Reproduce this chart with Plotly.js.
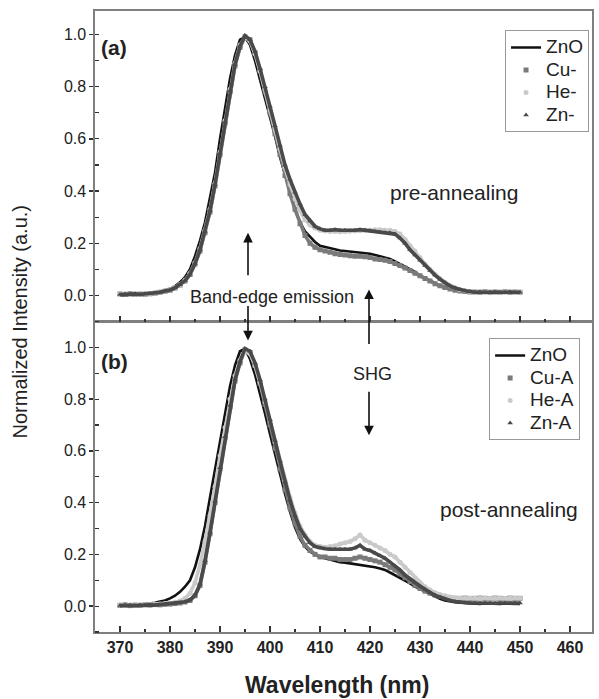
<!DOCTYPE html>
<html>
<head>
<meta charset="utf-8">
<script src="https://cdn.plot.ly/plotly-3.0.1.min.js"></script>
<style>html,body{margin:0;padding:0;background:#fff;}#chart{width:599px;height:699px;}</style>
</head>
<body>
<div id="chart"></div>
<script>
// Wavelength grid (nm)
const wavelength = [370,371,372,373,374,375,376,377,378,379,380,381,382,383,384,385,386,387,388,389,390,391,392,393,394,395,396,397,398,399,400,401,402,403,404,405,406,407,408,409,410,411,412,413,414,415,416,417,418,419,420,421,422,423,424,425,426,427,428,429,430,431,432,433,434,435,436,437,438,439,440,441,442,443,444,445,446,447,448,449,450];

// (a) pre-annealing
const a_ZnO = [0.000,0.002,0.000,0.003,0.004,0.005,0.008,0.010,0.015,0.020,
0.025,0.035,0.050,0.070,0.100,0.150,0.210,0.280,0.370,0.470,
0.600,0.720,0.830,0.920,0.980,0.990,0.960,0.900,0.830,0.760,
0.690,0.610,0.530,0.460,0.390,0.330,0.280,0.245,0.225,0.205,
0.190,0.185,0.180,0.175,0.172,0.170,0.168,0.165,0.163,0.160,
0.160,0.155,0.150,0.145,0.140,0.130,0.120,0.110,0.100,0.090,
0.075,0.065,0.055,0.045,0.035,0.030,0.025,0.020,0.018,0.015,
0.013,0.012,0.010,0.012,0.010,0.010,0.012,0.010,0.010,0.012,0.010];
const a_Cu = [0.005,0.003,0.006,0.004,0.005,0.004,0.006,0.008,0.012,0.016,
0.020,0.028,0.040,0.055,0.080,0.120,0.170,0.240,0.320,0.420,
0.540,0.660,0.780,0.880,0.950,0.990,0.980,0.930,0.860,0.780,
0.700,0.620,0.540,0.460,0.390,0.330,0.275,0.230,0.200,0.185,
0.175,0.170,0.165,0.160,0.157,0.155,0.152,0.150,0.150,0.148,
0.145,0.140,0.138,0.135,0.130,0.122,0.115,0.105,0.095,0.085,
0.075,0.065,0.055,0.045,0.037,0.030,0.025,0.020,0.017,0.015,
0.013,0.013,0.012,0.014,0.012,0.013,0.012,0.014,0.012,0.013,0.012];
const a_He = [0.004,0.006,0.003,0.005,0.006,0.005,0.007,0.009,0.013,0.017,
0.022,0.030,0.042,0.058,0.085,0.125,0.180,0.250,0.330,0.430,
0.550,0.670,0.790,0.890,0.960,0.990,0.975,0.925,0.860,0.790,
0.710,0.635,0.560,0.490,0.425,0.370,0.325,0.290,0.270,0.258,
0.250,0.247,0.245,0.245,0.244,0.245,0.246,0.247,0.248,0.250,
0.250,0.252,0.252,0.250,0.250,0.245,0.235,0.215,0.190,0.170,
0.145,0.120,0.100,0.080,0.065,0.050,0.038,0.030,0.022,0.018,
0.015,0.013,0.014,0.012,0.013,0.014,0.012,0.013,0.014,0.012,0.013];
const a_Zn = [0.003,0.005,0.004,0.006,0.004,0.006,0.007,0.009,0.012,0.017,
0.021,0.029,0.041,0.056,0.082,0.122,0.175,0.245,0.325,0.425,
0.545,0.665,0.785,0.885,0.955,0.995,0.980,0.935,0.870,0.800,
0.725,0.650,0.575,0.500,0.445,0.395,0.350,0.310,0.285,0.265,
0.255,0.250,0.250,0.252,0.250,0.250,0.248,0.250,0.252,0.250,
0.248,0.245,0.242,0.240,0.240,0.235,0.220,0.200,0.175,0.155,
0.135,0.115,0.095,0.078,0.062,0.048,0.036,0.028,0.022,0.018,
0.015,0.012,0.013,0.011,0.012,0.013,0.011,0.012,0.013,0.011,0.012];

// (b) post-annealing
const b_ZnO = [0.005,0.003,0.004,0.006,0.005,0.007,0.010,0.013,0.018,0.022,
0.030,0.040,0.055,0.075,0.100,0.150,0.220,0.310,0.420,0.530,
0.640,0.750,0.850,0.930,0.985,0.995,0.955,0.895,0.825,0.745,
0.665,0.585,0.505,0.435,0.365,0.305,0.260,0.230,0.210,0.200,
0.190,0.185,0.180,0.175,0.170,0.168,0.165,0.162,0.160,0.158,
0.155,0.150,0.145,0.140,0.130,0.120,0.110,0.098,0.088,0.075,
0.065,0.055,0.045,0.035,0.028,0.022,0.018,0.015,0.013,0.012,
0.010,0.010,0.008,0.010,0.009,0.010,0.008,0.010,0.009,0.010,0.008];
const b_Cu = [0.003,0.005,0.002,0.004,0.003,0.005,0.004,0.006,0.005,0.007,
0.008,0.010,0.012,0.016,0.022,0.040,0.080,0.170,0.280,0.400,
0.530,0.650,0.770,0.870,0.940,0.990,0.980,0.930,0.860,0.780,
0.700,0.610,0.530,0.450,0.380,0.320,0.270,0.235,0.215,0.200,
0.190,0.190,0.185,0.185,0.180,0.180,0.180,0.185,0.190,0.185,
0.180,0.175,0.170,0.160,0.150,0.140,0.125,0.110,0.095,0.080,
0.068,0.058,0.050,0.043,0.038,0.034,0.032,0.030,0.030,0.031,
0.029,0.030,0.031,0.030,0.029,0.031,0.030,0.029,0.031,0.030,0.030];
const b_He = [0.004,0.003,0.005,0.003,0.004,0.005,0.006,0.007,0.008,0.010,
0.012,0.015,0.020,0.030,0.050,0.090,0.160,0.250,0.350,0.460,
0.580,0.690,0.800,0.890,0.950,0.985,0.975,0.930,0.865,0.790,
0.715,0.635,0.560,0.485,0.420,0.360,0.310,0.275,0.250,0.235,
0.230,0.228,0.230,0.233,0.240,0.245,0.250,0.260,0.275,0.255,
0.245,0.235,0.225,0.215,0.200,0.190,0.170,0.150,0.130,0.110,
0.090,0.075,0.062,0.052,0.045,0.040,0.035,0.032,0.030,0.030,
0.031,0.030,0.029,0.031,0.030,0.030,0.031,0.029,0.030,0.031,0.030];
const b_Zn = [0.002,0.004,0.003,0.002,0.004,0.003,0.005,0.004,0.006,0.007,
0.008,0.010,0.013,0.017,0.024,0.042,0.085,0.175,0.285,0.405,
0.535,0.655,0.775,0.875,0.945,0.995,0.985,0.940,0.875,0.800,
0.720,0.640,0.560,0.480,0.410,0.350,0.300,0.270,0.245,0.230,
0.225,0.222,0.220,0.220,0.220,0.220,0.220,0.225,0.235,0.220,
0.215,0.205,0.195,0.185,0.170,0.155,0.140,0.120,0.105,0.090,
0.078,0.065,0.052,0.042,0.035,0.028,0.022,0.018,0.015,0.013,
0.012,0.012,0.011,0.013,0.012,0.011,0.012,0.013,0.011,0.012,0.012];

const namesA = ['ZnO','Cu-','He-','Zn-'];
const namesB = ['ZnO','Cu-A','He-A','Zn-A'];
const colors = ['#111111','#7a7a7a','#cacaca','#4a4a4a'];
const symbols = ['line','square','circle','triangle-up'];

const traces = [];
function legName(n) { return '<span style="font-size:19px">' + n + '</span>'; }
function addSeries(ys, i, name, xa, ya, leg) {
  if (i === 0) {
    traces.push({x: wavelength, y: ys, xaxis: xa, yaxis: ya, mode: 'lines', name: legName(name),
      line: {color: colors[i], width: 2.6}, legend: leg, showlegend: true});
  } else {
    traces.push({x: wavelength, y: ys, xaxis: xa, yaxis: ya, mode: 'lines', name: legName(name),
      line: {color: colors[i], width: 3.6}, showlegend: false, legend: leg});
    traces.push({x: wavelength, y: ys, xaxis: xa, yaxis: ya, mode: 'markers', name: legName(name),
      marker: {color: colors[i], size: 5, symbol: symbols[i]}, legend: leg, showlegend: true});
  }
}
[a_ZnO, a_Cu, a_He, a_Zn].forEach((s, i) => addSeries(s, i, namesA[i], 'x2', 'y', 'legend'));
[b_ZnO, b_Cu, b_He, b_Zn].forEach((s, i) => addSeries(s, i, namesB[i], 'x', 'y2', 'legend2'));

const frame = '#7f7f7f';
const fnt = 'Liberation Sans, Arial, sans-serif';
const xcommon = {range: [365, 464.4], dtick: 10, tick0: 370, ticks: 'inside', ticklen: 6, tickwidth: 1.3,
  tickcolor: '#333', showline: true, linecolor: frame, linewidth: 1.6, mirror: true, showgrid: false, zeroline: false,
  minor: {ticks: 'inside', dtick: 5, ticklen: 3, tickcolor: '#333', tickwidth: 1.2}};
const ycommon = {dtick: 0.2, tick0: 0, tickformat: '.1f', ticks: 'outside', ticklen: 4, tickwidth: 1.3,
  tickcolor: '#333', showline: true, linecolor: frame, linewidth: 1.6, mirror: true, showgrid: false, zeroline: false,
  tickfont: {family: fnt, size: 16, color: '#222'},
  minor: {ticks: 'inside', dtick: 0.1, ticklen: 4, tickcolor: '#333', tickwidth: 1.2}};

const arrowC = '#111';
const legCommon = {xanchor: 'left', yanchor: 'top', bgcolor: '#fff', bordercolor: '#999', borderwidth: 1,
  font: {family: fnt, size: 15, color: '#222'}, itemwidth: 30, tracegroupgap: 0};
const layout = {
  width: 599, height: 699,
  margin: {l: 95, r: 7, t: 11, b: 67},
  paper_bgcolor: '#fff', plot_bgcolor: '#fff',
  font: {family: fnt, color: '#222'},
  xaxis: Object.assign({}, xcommon, {anchor: 'y2', tickfont: {family: fnt, size: 16, color: '#222', weight: 'bold'}}),
  xaxis2: Object.assign({}, xcommon, {anchor: 'y', matches: 'x', showticklabels: false}),
  yaxis: Object.assign({}, ycommon, {domain: [0.5, 1], range: [-0.1, 1.09], anchor: 'x2'}),
  yaxis2: Object.assign({}, ycommon, {domain: [0, 0.5], range: [-0.1, 1.1], anchor: 'x'}),
  legend: Object.assign({}, legCommon, {x: 0.825, y: 0.969}),
  legend2: Object.assign({}, legCommon, {x: 0.793, y: 0.473}),
  annotations: [
    {xref: 'paper', yref: 'paper', x: -0.151, y: 0.5, xanchor: 'center', yanchor: 'middle',
     text: 'Normalized Intensity (a.u.)', textangle: -90,
     showarrow: false, font: {family: fnt, size: 20, color: '#222'}},
    {xref: 'paper', yref: 'paper', x: 0.487, y: -0.085, xanchor: 'center', yanchor: 'middle',
     text: '<b>Wavelength (nm)</b>', showarrow: false,
     font: {family: fnt, size: 23, color: '#222'}},
    {xref: 'x2', yref: 'y', x: 368.8, y: 0.95, text: '<b>(a)</b>', showarrow: false, font: {family: fnt, size: 21, color: '#222'}},
    {xref: 'x', yref: 'y2', x: 368.8, y: 0.946, text: '<b>(b)</b>', showarrow: false, font: {family: fnt, size: 21, color: '#222'}},
    {xref: 'x2', yref: 'y', x: 436.8, y: 0.393, text: 'pre-annealing', showarrow: false, font: {family: fnt, size: 21, color: '#222'}},
    {xref: 'x', yref: 'y2', x: 447.8, y: 0.375, text: 'post-annealing', showarrow: false, font: {family: fnt, size: 21, color: '#222'}},
    {xref: 'x2', yref: 'y', x: 400.4, y: -0.008, text: 'Band-edge emission', showarrow: false, font: {family: fnt, size: 18, color: '#222'}},
    {xref: 'x', yref: 'y2', x: 420.4, y: 0.896, text: 'SHG', showarrow: false, font: {family: fnt, size: 18, color: '#222'}},
    // arrows
    {xref: 'x2', yref: 'y', x: 395.6, y: 0.24, ax: 0, ay: 44, text: '', showarrow: true, arrowhead: 2, arrowsize: 1.2, arrowwidth: 1.6, arrowcolor: arrowC},
    {xref: 'x', yref: 'y2', x: 395.6, y: 1.027, ax: 0, ay: -36, text: '', showarrow: true, arrowhead: 2, arrowsize: 1.2, arrowwidth: 1.6, arrowcolor: arrowC},
    {xref: 'x2', yref: 'y', x: 419.8, y: 0.023, ax: 0, ay: 56, text: '', showarrow: true, arrowhead: 2, arrowsize: 1.2, arrowwidth: 1.6, arrowcolor: arrowC},
    {xref: 'x', yref: 'y2', x: 419.8, y: 0.66, ax: 0, ay: -45, text: '', showarrow: true, arrowhead: 2, arrowsize: 1.2, arrowwidth: 1.6, arrowcolor: arrowC}
  ]
};

Plotly.newPlot('chart', traces, layout, {displayModeBar: false, staticPlot: true});
</script>
</body>
</html>
